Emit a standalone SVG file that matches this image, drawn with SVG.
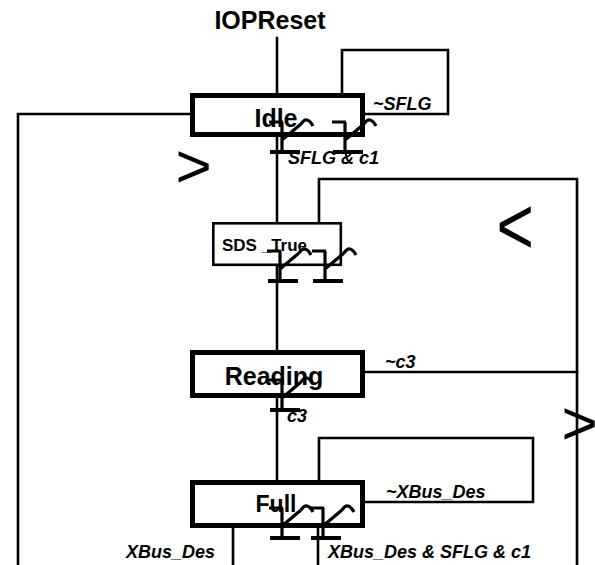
<svg xmlns="http://www.w3.org/2000/svg" width="595" height="565" viewBox="0 0 595 565">
<style>
.ln{fill:none;stroke:#000;stroke-width:2.6;stroke-linecap:square}
.st{fill:#fff;stroke:#000;stroke-width:5}
.st2{fill:#fff;stroke:#000;stroke-width:2.6}
.nm{font-family:"Liberation Sans",Arial,sans-serif;font-weight:bold;fill:#000}
.lb{font-family:"Liberation Sans",Arial,sans-serif;font-weight:bold;font-style:italic;font-size:18px;fill:#000}
.ar{font-family:"Liberation Sans",Arial,sans-serif;fill:#000}
.tm{fill:none;stroke:#000;stroke-width:3.2}
</style>
<defs>
<g id="tmark">
<path class="tm" d="M-13,0H1M0,0V30M0,18L19,2M19,2Q25,-7 31,4"/>
<path class="tm" d="M-12,30H18" style="stroke-width:4"/>
</g>
</defs>
<rect width="595" height="565" fill="#fff"/>
<g id="connectors">
<path class="ln" d="M277,38V480"/>
<path class="ln" d="M342,95V50H448V114H365"/>
<path class="ln" d="M190,114H18V566"/>
<path class="ln" d="M319,223V179H577V566"/>
<path class="ln" d="M365,372H577"/>
<path class="ln" d="M319,482V438H533V502H365"/>
<path class="ln" d="M233,528V566"/>
<path class="ln" d="M318,528V566"/>
</g>
<g id="IOPReset"><text class="nm" x="270" y="29" font-size="25" text-anchor="middle">IOPReset</text></g>
<g id="Idle">
<rect class="st" x="192.5" y="95.5" width="170" height="39"/>
<text class="nm" x="276" y="127" font-size="25" text-anchor="middle">Idle</text>
</g>
<g id="SDS_True">
<rect class="st2" x="213.3" y="223.3" width="127.5" height="41.5"/>
<text class="nm" x="222" y="251" font-size="17">SDS _True</text>
</g>
<g id="Reading">
<rect class="st" x="192.5" y="352.5" width="170" height="43"/>
<text class="nm" x="274" y="385" font-size="25" text-anchor="middle">Reading</text>
</g>
<g id="Full">
<rect class="st" x="192.5" y="482.5" width="170" height="43"/>
<text class="nm" x="276" y="512" font-size="23" text-anchor="middle">Full</text>
</g>
<g id="transitions">
<use href="#tmark" x="282" y="122"/>
<use href="#tmark" x="345" y="122"/>
<use href="#tmark" x="280" y="251"/>
<use href="#tmark" x="325" y="251"/>
<use href="#tmark" x="282" y="380"/>
<use href="#tmark" x="282" y="508"/>
<use href="#tmark" x="323" y="508"/>
</g>
<g id="labels">
<text class="lb" x="373" y="110">~SFLG</text>
<text class="lb" x="288" y="164">SFLG &amp; c1</text>
<text class="lb" x="385" y="368">~c3</text>
<text class="lb" x="287" y="422">c3</text>
<text class="lb" x="386" y="498">~XBus_Des</text>
<text class="lb" x="126" y="558">XBus_Des</text>
<text class="lb" x="328" y="558">XBus_Des &amp; SFLG &amp; c1</text>
</g>
<g id="arrows">
<text class="ar" x="175.5" y="187" font-size="62">&gt;</text>
<text class="ar" font-size="64" transform="translate(496.5,253.6) scale(1,1.27)">&lt;</text>
<text class="ar" x="561.5" y="444" font-size="62">&gt;</text>
</g>
</svg>
